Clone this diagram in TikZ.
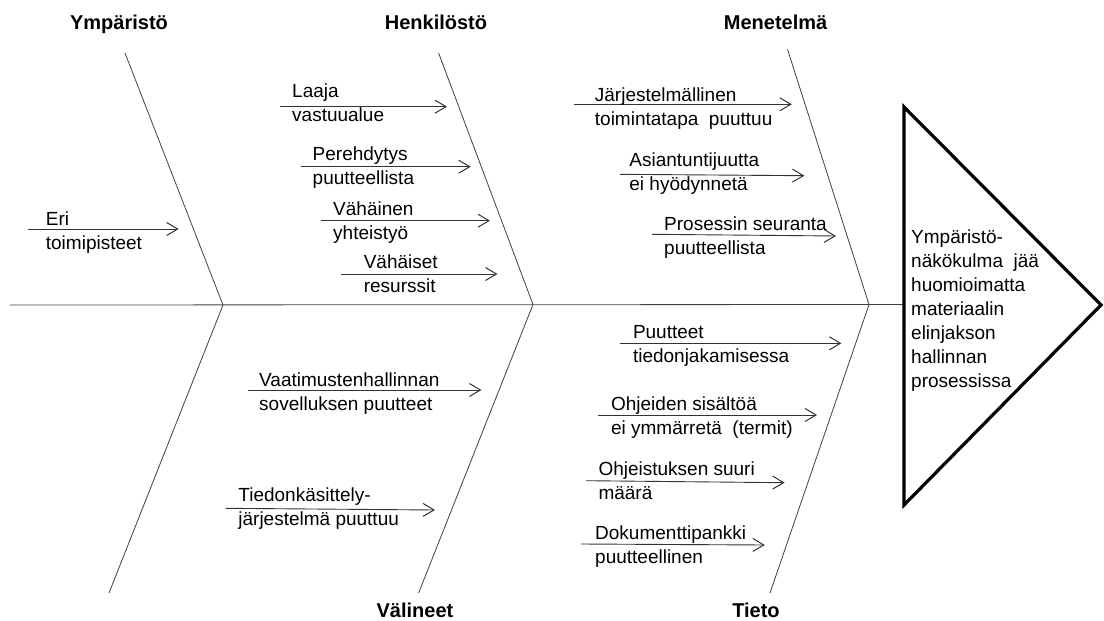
\documentclass[tikz,border=0pt]{standalone}
\usepackage{fontspec}
\setmainfont{Liberation Sans}
\usetikzlibrary{arrows.meta}
\newcommand\twolines[1]{\begin{tabular}[t]{@{}l@{}}#1\end{tabular}}
\begin{document}
\begin{tikzpicture}[x=1pt,y=-1pt,
  bone/.style={draw=black!75, line width=0.8pt},
  cause/.style={draw=black!80, line width=0.9pt, -{Straight Barb[length=11pt,width=13pt,line width=1pt]}},
  lbl/.style={anchor=base west, inner sep=0pt, font=\fontsize{19}{24}\selectfont},
  ttl/.style={anchor=base, inner sep=0pt, font=\fontsize{20}{24}\selectfont\bfseries},
  head/.style={draw=black, line width=3.2pt, line join=miter}
]
\useasboundingbox (0,0) rectangle (1104,621);

% titles
\node[ttl] (tY) at (119,29.3) {Ympäristö};
\node[ttl] (tH) at (436,29.3) {Henkilöstö};
\node[ttl] (tM) at (775.6,29.3) {Menetelmä};
\node[ttl] (tV) at (415,617.6) {Välineet};
\node[ttl] (tT) at (756,617.6) {Tieto};

% spine and head
\coordinate (sp0) at (10,305);
\coordinate (hA) at (904,107);
\coordinate (hB) at (1101,305);
\coordinate (hC) at (904,505);
\coordinate (hL) at (904,304.5);
\draw[bone] (sp0) -- (hL);
\draw[head] (hA) -- (hB) -- (hC) -- cycle;
\node[lbl] (effect) at (911,243.3) {\twolines{Ympäristö-\\näkökulma\ \ jää\\huomioimatta\\materiaalin\\elinjakson\\hallinnan\\prosessissa}};

% bones
\coordinate (bY0) at (125,53);   \coordinate (bY1) at (223,305);  \coordinate (bY2) at (109,593);
\coordinate (bH0) at (438.6,53); \coordinate (bH1) at (533,304.5);  \coordinate (bH2) at (418.6,593);
\coordinate (bM0) at (787.5,49.3); \coordinate (bM1) at (869,304.5); \coordinate (bM2) at (770,593);
\draw[bone] (bY0) -- (bY1) -- (bY2);
\draw[bone] (bH0) -- (bH1) -- (bH2);
\draw[bone] (bM0) -- (bM1) -- (bM2);

% causes: Ympäristö
\coordinate (c1s) at (28,229); \coordinate (c1e) at (178.6,229);
\draw[cause] (c1s) -- (c1e);
\node[lbl] (l1) at (45.7,225.7) {\twolines{Eri\\toimipisteet}};

% Henkilöstö
\coordinate (c2s) at (280,106.7); \coordinate (c2e) at (447,106.7);
\draw[cause] (c2s) -- (c2e);
\node[lbl] (l2) at (292,97) {\twolines{Laaja\\vastuualue}};
\coordinate (c3s) at (301,166.7); \coordinate (c3e) at (470.7,166.7);
\draw[cause] (c3s) -- (c3e);
\node[lbl] (l3) at (312.5,160) {\twolines{Perehdytys\\puutteellista}};
\coordinate (c4s) at (320.7,220.7); \coordinate (c4e) at (490,220.7);
\draw[cause] (c4s) -- (c4e);
\node[lbl] (l4) at (333,215) {\twolines{Vähäinen\\yhteistyö}};
\coordinate (c5s) at (341,274); \coordinate (c5e) at (497.5,274);
\draw[cause] (c5s) -- (c5e);
\node[lbl] (l5) at (363.6,268) {\twolines{Vähäiset\\resurssit}};

% Menetelmä
\coordinate (c6s) at (574,104.3); \coordinate (c6e) at (791.8,104.3);
\draw[cause] (c6s) -- (c6e);
\node[lbl] (l6) at (594.7,101.7) {\twolines{Järjestelmällinen\\toimintatapa\ \ puuttuu}};
\coordinate (c7s) at (619.9,174.3); \coordinate (c7e) at (804.4,175.7);
\draw[cause] (c7s) -- (c7e);
\node[lbl] (l7) at (629.2,166) {\twolines{Asiantuntijuutta\\ei hyödynnetä}};
\coordinate (c8s) at (652.2,234.3); \coordinate (c8e) at (836,236);
\draw[cause] (c8s) -- (c8e);
\node[lbl] (l8) at (664,230) {\twolines{Prosessin seuranta\\puutteellista}};

% Välineet
\coordinate (c9s) at (247.5,390); \coordinate (c9e) at (481.4,390);
\draw[cause] (c9s) -- (c9e);
\node[lbl] (l9) at (259,386) {\twolines{Vaatimustenhallinnan\\sovelluksen puutteet}};
\coordinate (c10s) at (225.7,508.3); \coordinate (c10e) at (435,510);
\draw[cause] (c10s) -- (c10e);
\node[lbl] (l10) at (238.2,501.7) {\twolines{Tiedonkäsittely-\\järjestelmä puuttuu}};

% Tieto
\coordinate (c11s) at (619.9,343.3); \coordinate (c11e) at (841.4,343.3);
\draw[cause] (c11s) -- (c11e);
\node[lbl] (l11) at (632.8,338.3) {\twolines{Puutteet\\tiedonjakamisessa}};
\coordinate (c12s) at (598.3,415); \coordinate (c12e) at (817,415);
\draw[cause] (c12s) -- (c12e);
\node[lbl] (l12) at (610.9,410) {\twolines{Ohjeiden sisältöä\\ei ymmärretä\ \ (termit)}};
\coordinate (c13s) at (586,480.7); \coordinate (c13e) at (784.6,482.7);
\draw[cause] (c13s) -- (c13e);
\node[lbl] (l13) at (598.3,475) {\twolines{Ohjeistuksen suuri\\määrä}};
\coordinate (c14s) at (580.6,544); \coordinate (c14e) at (764.8,545);
\draw[cause] (c14s) -- (c14e);
\node[lbl] (l14) at (595,539.3) {\twolines{Dokumenttipankki\\puutteellinen}};
\end{tikzpicture}
\end{document}
